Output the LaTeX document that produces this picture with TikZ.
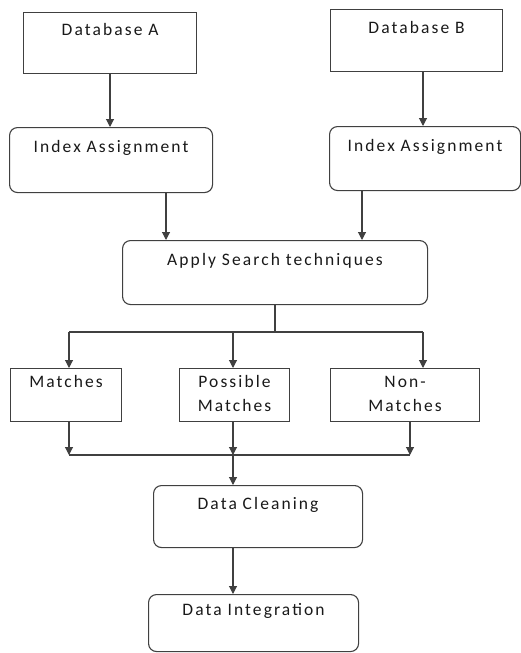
\documentclass[tikz,border=0pt]{standalone}
\usepackage{fontspec}
\setmainfont[LetterSpace=12]{Carlito}
\usetikzlibrary{arrows.meta}
\begin{document}
\begin{tikzpicture}[x=1pt,y=-1pt,
  box/.style={draw=black!75, line width=1.1pt, anchor=north west, inner sep=0pt, align=center,
    font=\fontsize{17.5}{24}\selectfont, text=black!90},
  rbox/.style={box, rounded corners=8pt},
  arr/.style={draw=black!75, line width=1.1pt, -{Triangle[width=8pt,length=8pt]}},
  ln/.style={draw=black!75, line width=1.1pt}]
\useasboundingbox (0,0) rectangle (521,653);
% boxes
\node[box, minimum width=173, minimum height=61, text width=165] (dba) at (23,12) {\strut Database A\\\strut};
\node[rbox, minimum width=203, minimum height=65, text width=195] (ia) at (9,127) {\strut Index Assignment\\\strut};
\node[box, minimum width=172, minimum height=62, text width=164] (dbb) at (330,9) {\strut Database B\\\strut};
\node[rbox, minimum width=191, minimum height=64, text width=185] (ib) at (329,126) {\strut Index Assignment\\\strut};
\node[rbox, minimum width=305, minimum height=64, text width=297] (apply) at (122,240) {\strut Apply Search techniques\\\strut};
\node[box, minimum width=111, minimum height=53, text width=105] (match) at (10,368) {\strut Matches\\\strut};
\node[box, minimum width=110, minimum height=53, text width=104] (poss) at (179,368) {\strut Possible\\\strut Matches};
\node[box, minimum width=149, minimum height=53, text width=143] (non) at (330,368) {\strut Non-\\\strut Matches};
\node[rbox, minimum width=209, minimum height=62, text width=201] (clean) at (153,485) {\strut Data Cleaning\\\strut};
\node[rbox, minimum width=210, minimum height=57, text width=202] (integ) at (148,594) {\strut Data Integration\\\strut};
% column coordinates
\coordinate (xa) at (110,0);
\coordinate (xb) at (423,0);
\coordinate (xia) at (166,0);
\coordinate (xib) at (362,0);
\coordinate (xs) at (275,0);
\coordinate (xm) at (69,0);
\coordinate (xp) at (233,0);
\coordinate (xn) at (423,0);
\coordinate (xn2) at (410,0);
\coordinate (ysplit) at (0,332);
\coordinate (ymerge) at (0,455);
% connectors
\draw[arr] (dba.south -| xa) -- (ia.north -| xa);
\draw[arr] (dbb.south -| xb) -- (ib.north -| xb);
\draw[arr] (ia.south -| xia) -- (apply.north -| xia);
\draw[arr] (ib.south -| xib) -- (apply.north -| xib);
\draw[ln] (apply.south -| xs) -- (xs |- ysplit);
\draw[ln] (xm |- ysplit) -- (xn |- ysplit);
\draw[arr] (xm |- ysplit) -- (match.north -| xm);
\draw[arr] (xp |- ysplit) -- (poss.north -| xp);
\draw[arr] (xn |- ysplit) -- (non.north -| xn);
\draw[arr] (match.south -| xm) -- (xm |- ymerge);
\draw[arr] (poss.south -| xp) -- (xp |- ymerge);
\draw[arr] (non.south -| xn2) -- (xn2 |- ymerge);
\draw[ln] (xm |- ymerge) -- (xn2 |- ymerge);
\draw[arr] (xp |- ymerge) -- (clean.north -| xp);
\draw[arr] (clean.south -| xp) -- (integ.north -| xp);
\end{tikzpicture}
\end{document}
